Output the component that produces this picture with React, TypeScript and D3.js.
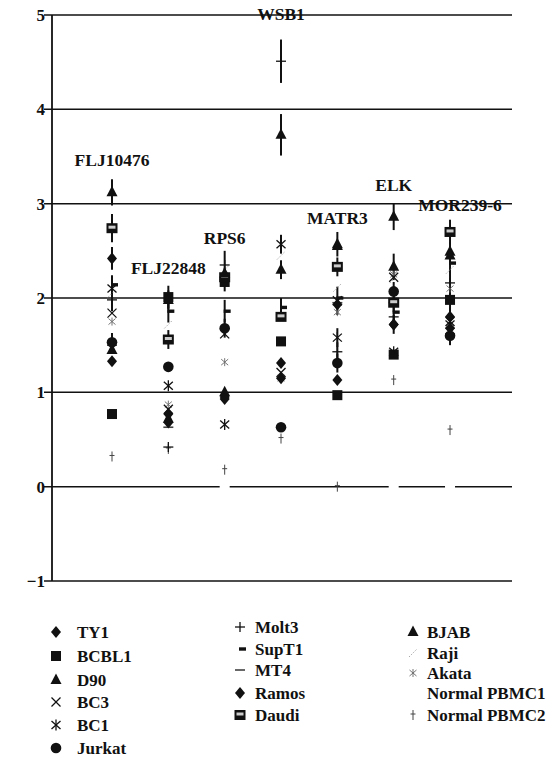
import React from "react";
import * as d3 from "d3";

const genes = ["FLJ10476", "FLJ22848", "RPS6", "WSB1", "MATR3", "ELK", "MOR239-6"];
const yTicks = [5, 4, 3, 2, 1, 0, -1];

// values per gene (order of `genes`)
const TY1 = [2.42, 0.77, 0.95, 1.31, 1.13, 1.72, 1.80];
const BCBL1 = [0.77, 2.01, 2.17, 1.54, 0.97, 1.40, 1.98];
const D90 = [1.45, 0.72, 1.00, 2.30, 2.55, 2.33, 2.49];
const BC3 = [1.84, 0.82, 1.62, 1.21, 1.97, 2.22, 1.75];
const BC1 = [2.10, 1.07, 0.66, 2.57, 1.58, 1.43, 1.72];
const Jurkat = [1.53, 1.27, 1.68, 0.63, 1.31, 2.07, 1.60];
const Molt3 = [1.98, 0.42, 2.35, 4.51, 1.43, 1.80, 2.16];
const SupT1 = [2.14, 1.86, 1.86, 1.90, 2.00, 1.85, 2.37];
const MT4 = [1.50, 0.63, 2.20, 1.55, 1.95, 1.95, 1.62];
const Ramos = [1.33, 0.68, 0.93, 1.15, 1.93, 1.72, 1.68];
const Daudi = [2.74, 1.56, 2.22, 1.80, 2.33, 1.95, 2.70];
const BJAB = [3.12, 1.98, 2.26, 3.73, 2.57, 2.86, 2.45];
const Raji = [2.05, 1.72, 2.30, 2.45, 2.11, 2.20, 2.30];
const Akata = [1.75, 0.87, 1.32, 1.15, 1.85, 2.25, 2.10];
const PBMC1 = [null, null, 0, null, null, 0, 0];
const PBMC2 = [0.32, 0.40, 0.18, 0.51, 0.0, 1.13, 0.60];

// half-length of vertical error bars
const errTY1 = [0.12, 0, 0, 0, 0, 0.1, 0.1];
const errBCBL1 = [0, 0.12, 0.1, 0, 0, 0, 0.12];
const errD90 = [0, 0, 0, 0.1, 0, 0.14, 0.1];
const errBC3 = [0, 0, 0, 0, 0.15, 0, 0];
const errBC1 = [0, 0, 0, 0.1, 0.1, 0, 0];
const errJurkat = [0.1, 0, 0.1, 0, 0.1, 0.1, 0.1];
const errMolt3 = [0.12, 0, 0.15, 0.23, 0.1, 0.12, 0.15];
const errSupT1 = [0.1, 0.12, 0.12, 0.1, 0, 0, 0.1];
const errDaudi = [0.15, 0.1, 0.1, 0, 0.1, 0.1, 0.13];
const errBJAB = [0.14, 0.1, 0, 0.22, 0.13, 0.14, 0.1];
const zeros = [0, 0, 0, 0, 0, 0, 0];

const series = [
  { name: "TY1", shape: "diamond", values: TY1, err: errTY1 },
  { name: "BCBL1", shape: "square", values: BCBL1, err: errBCBL1 },
  { name: "D90", shape: "triangle", values: D90, err: errD90 },
  { name: "BC3", shape: "x", values: BC3, err: errBC3 },
  { name: "BC1", shape: "asterisk", values: BC1, err: errBC1 },
  { name: "Jurkat", shape: "circle", values: Jurkat, err: errJurkat },
  { name: "Molt3", shape: "plus", values: Molt3, err: errMolt3 },
  { name: "SupT1", shape: "dashShort", values: SupT1, err: errSupT1 },
  { name: "MT4", shape: "dashLong", values: MT4, err: zeros },
  { name: "Ramos", shape: "diamond", values: Ramos, err: zeros },
  { name: "Daudi", shape: "daudi", values: Daudi, err: errDaudi },
  { name: "BJAB", shape: "triangle", values: BJAB, err: errBJAB },
  { name: "Raji", shape: "raji", values: Raji, err: zeros },
  { name: "Akata", shape: "akata", values: Akata, err: zeros },
  { name: "Normal PBMC1", shape: "white", values: PBMC1, err: zeros },
  { name: "Normal PBMC2", shape: "dagger", values: PBMC2, err: zeros },
];

const legendCol1 = ["TY1", "BCBL1", "D90", "BC3", "BC1", "Jurkat"];
const legendCol2 = ["Molt3", "SupT1", "MT4", "Ramos", "Daudi"];
const legendCol3 = ["BJAB", "Raji", "Akata", "Normal PBMC1", "Normal PBMC2"];

const labelY = [3.4, 2.25, 2.57, 4.95, 2.78, 3.13, 2.92];

const FONT = "'Liberation Serif', 'Times New Roman', serif";
const INK = "#111";

function Marker({ shape, x, y }: { shape: string; x: number; y: number }) {
  switch (shape) {
    case "diamond":
      return <path d={`M${x},${y - 6}L${x + 5},${y}L${x},${y + 6}L${x - 5},${y}Z`} fill={INK} />;
    case "square":
      return <rect x={x - 5} y={y - 5} width={10} height={10} fill={INK} />;
    case "triangle":
      return <path d={`M${x},${y - 6.5}L${x + 5.5},${y + 4}L${x - 5.5},${y + 4}Z`} fill={INK} />;
    case "x":
      return (
        <g stroke={INK} strokeWidth={1.3}>
          <line x1={x - 4.5} y1={y - 4.5} x2={x + 4.5} y2={y + 4.5} />
          <line x1={x - 4.5} y1={y + 4.5} x2={x + 4.5} y2={y - 4.5} />
        </g>
      );
    case "asterisk":
      return (
        <g stroke={INK} strokeWidth={1.3}>
          <line x1={x - 4.5} y1={y - 4} x2={x + 4.5} y2={y + 4} />
          <line x1={x - 4.5} y1={y + 4} x2={x + 4.5} y2={y - 4} />
          <line x1={x} y1={y - 5.5} x2={x} y2={y + 5.5} />
        </g>
      );
    case "circle":
      return <circle cx={x} cy={y} r={5.3} fill={INK} />;
    case "plus":
      return (
        <g stroke={INK} strokeWidth={1.3}>
          <line x1={x - 5} y1={y} x2={x + 5} y2={y} />
          <line x1={x} y1={y - 5} x2={x} y2={y + 5} />
        </g>
      );
    case "dashShort":
      return <rect x={x - 1} y={y - 1.7} width={7} height={3.4} fill={INK} />;
    case "dashLong":
      return <rect x={x - 5} y={y - 0.8} width={10} height={1.6} fill="#444" />;
    case "daudi":
      return (
        <g>
          <rect x={x - 5.5} y={y - 5} width={11} height={10} fill={INK} />
          <rect x={x - 3.5} y={y - 2.5} width={7} height={3} fill="#ccc" />
        </g>
      );
    case "raji":
      return (
        <line x1={x - 4} y1={y + 4} x2={x + 4} y2={y - 4} stroke="#aaa" strokeWidth={1} strokeDasharray="1.5,1.5" />
      );
    case "akata":
      return (
        <g stroke="#666" strokeWidth={0.9}>
          <line x1={x - 3.5} y1={y - 3} x2={x + 3.5} y2={y + 3} />
          <line x1={x - 3.5} y1={y + 3} x2={x + 3.5} y2={y - 3} />
          <line x1={x} y1={y - 4} x2={x} y2={y + 4} />
        </g>
      );
    case "white":
      return <rect x={x - 5} y={y - 2.5} width={10} height={5} fill="#fff" />;
    case "dagger":
      return (
        <g stroke="#444" strokeWidth={1}>
          <line x1={x} y1={y - 5} x2={x} y2={y + 5} />
          <line x1={x - 2.5} y1={y - 1} x2={x + 2.5} y2={y - 1} />
        </g>
      );
    default:
      return null;
  }
}

export default function App() {
  const W = 555;
  const H = 772;
  const x = d3.scaleLinear().domain([-1.065, 7.1]).range([52, 512]);
  const y = d3.scaleLinear().domain([-1, 5]).range([581, 15]);

  const legendRows = [
    { names: legendCol1, mx: 56, tx: 77, ys: [632, 656, 680, 702, 725, 748] },
    { names: legendCol2, mx: 240, tx: 255, ys: [627, 649, 670, 693, 715] },
    { names: legendCol3, mx: 413, tx: 427, ys: [632, 653, 673, 693, 715] },
  ];

  return (
    <div style={{ position: "absolute", left: 0, top: 0 }}>
      <svg width={W} height={H} style={{ display: "block", background: "#fff" }}>
        {yTicks.map((t) => (
          <line key={t} x1={44} x2={512} y1={y(t)} y2={y(t)} stroke={INK} strokeWidth={1.5} />
        ))}
        <line x1={52} x2={52} y1={y(5)} y2={y(-1)} stroke={INK} strokeWidth={1.8} />
        {yTicks.map((t) => (
          <text
            key={"t" + t}
            x={45}
            y={y(t)}
            dy="0.35em"
            textAnchor="end"
            fontFamily={FONT}
            fontWeight="bold"
            fontSize={17}
            fill={INK}
          >
            {t < 0 ? "\u2212" + Math.abs(t) : t}
          </text>
        ))}
        {series.map((s) =>
          s.values.map((v, i) =>
            v !== null && s.err[i] > 0 ? (
              <line
                key={s.name + "e" + i}
                x1={x(i)}
                x2={x(i)}
                y1={y(v + s.err[i])}
                y2={y(v - s.err[i])}
                stroke={INK}
                strokeWidth={2}
              />
            ) : null
          )
        )}
        {[...series]
          .sort((a, b) => {
            const faint = ["raji", "akata", "dagger", "dashLong"];
            return (faint.includes(a.shape) ? 0 : 1) - (faint.includes(b.shape) ? 0 : 1);
          })
          .map((s) =>
            s.values.map((v, i) =>
              v !== null ? <Marker key={s.name + i} shape={s.shape} x={x(i)} y={y(v)} /> : null
            )
          )}
        {genes.map((g, i) => (
          <text
            key={g}
            x={g === "MOR239-6" ? x(i) + 10 : x(i)}
            y={y(labelY[i])}
            textAnchor="middle"
            fontFamily={FONT}
            fontWeight="bold"
            fontSize={17.5}
            fill={INK}
          >
            {g}
          </text>
        ))}
        {legendRows.map((col) =>
          col.names.map((n, r) => {
            const s = series.find((d) => d.name === n)!;
            return (
              <g key={"lg" + n}>
                <Marker shape={s.shape} x={col.mx} y={col.ys[r]} />
                <text
                  x={col.tx}
                  y={col.ys[r]}
                  dy="0.35em"
                  fontFamily={FONT}
                  fontWeight="bold"
                  fontSize={17}
                  fill={INK}
                >
                  {n}
                </text>
              </g>
            );
          })
        )}
      </svg>
    </div>
  );
}
